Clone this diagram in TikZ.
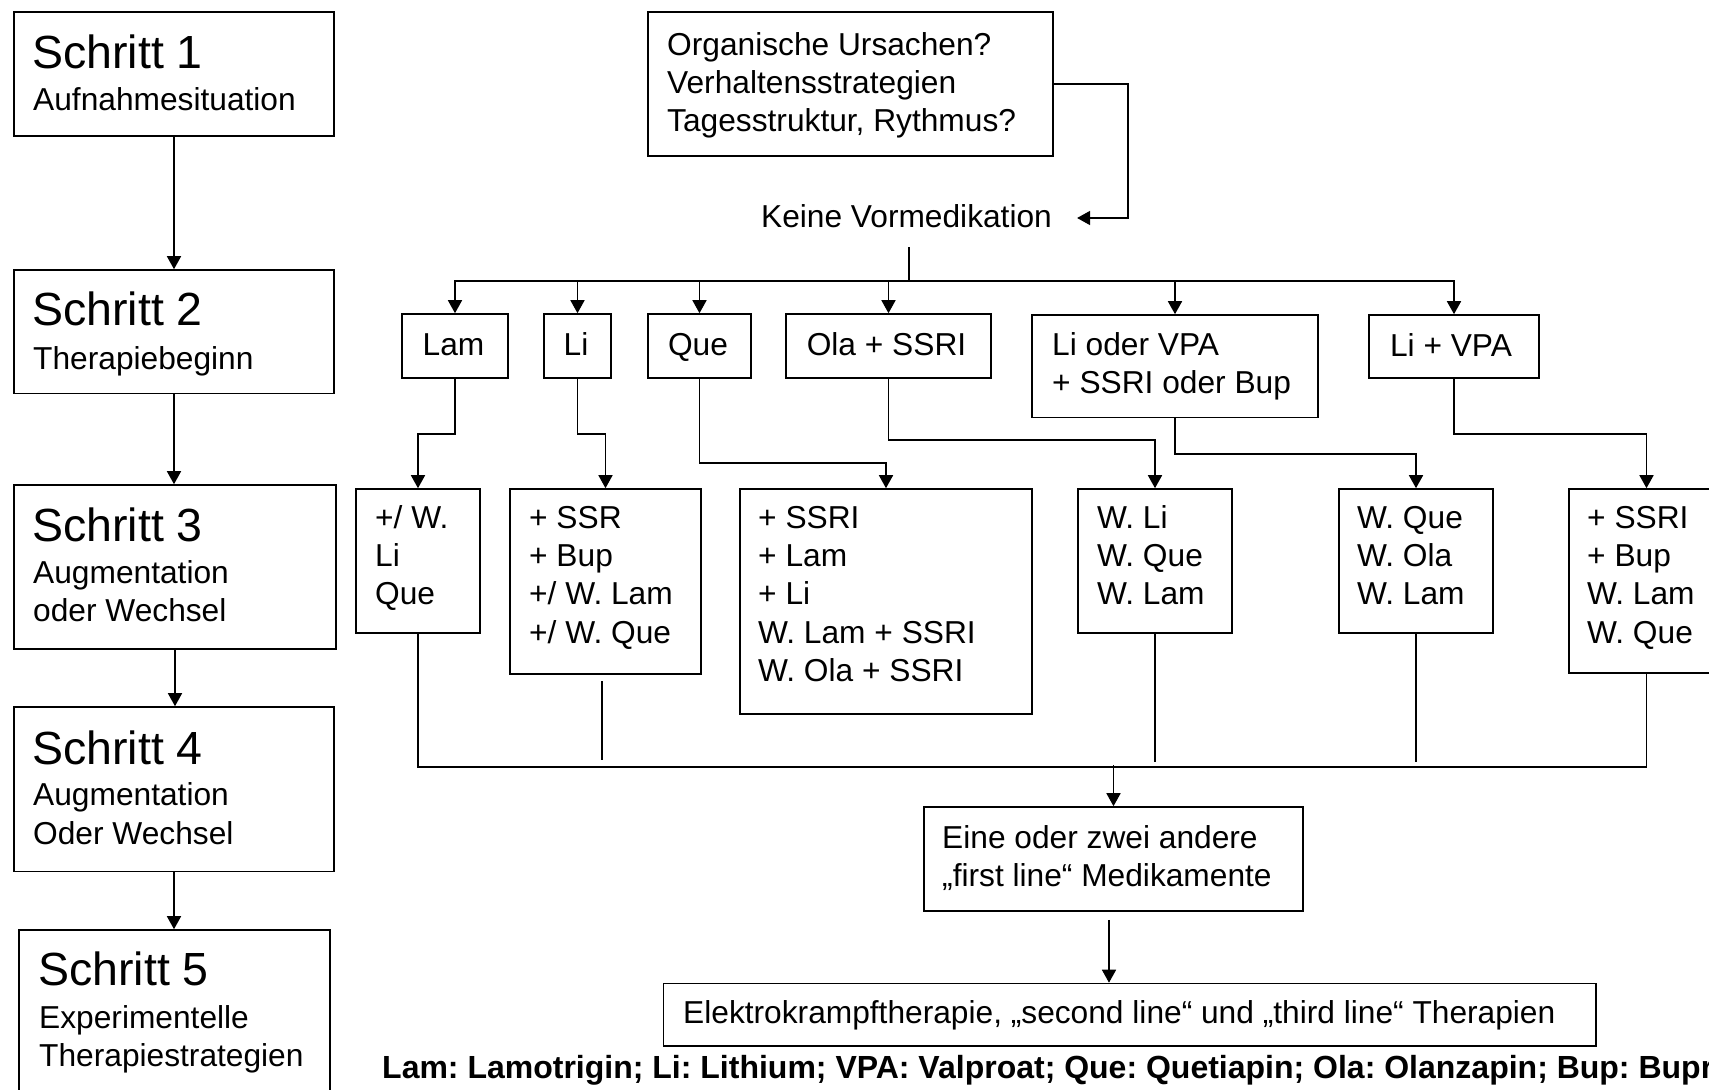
\documentclass[tikz,border=0pt]{standalone}
\usepackage{fontspec}
\setmainfont{Liberation Sans}
\usetikzlibrary{arrows.meta,fit}
\frenchspacing
\newcommand\bodyfont{\fontsize{31.7}{38.4}\selectfont}
\newcommand\legfont{\fontsize{32.0}{38.4}\selectfont\bfseries}
\newcommand\titlefont{\fontsize{46.5}{52}\selectfont}
\newcommand\ml[1]{\begin{tabular}[t]{@{}l@{}}#1\end{tabular}}
\begin{document}
\begin{tikzpicture}[x=1pt,y=-1pt,
  box/.style={draw, line width=1.6pt, inner sep=0pt},
  lbl/.style={inner sep=0pt, anchor=base west, font=\bodyfont},
  clbl/.style={inner sep=0pt, anchor=base, font=\bodyfont},
  ttl/.style={inner sep=0pt, anchor=base west, font=\titlefont},
  ln/.style={line width=1.6pt},
  arr/.style={ln, -{Triangle[length=13pt,width=14pt]}}]
\useasboundingbox (0,0) rectangle (1709,1090);
\clip (0,0) rectangle (1709,1090);

% left column: steps
\node[box, fit={(14,12) (334,136)}] (s1) {};
\node[ttl] (s1a) at (32,68.3) {Schritt 1};
\node[lbl] (s1b) at (33,110) {Aufnahmesituation};
\node[box, fit={(14,270) (334,393.5)}] (s2) {};
\node[ttl] (s2a) at (32,325.7) {Schritt 2};
\node[lbl] (s2b) at (33,369) {Therapiebeginn};
\node[box, fit={(14,485) (336,649)}] (s3) {};
\node[ttl] (s3a) at (32,541) {Schritt 3};
\node[lbl] (s3b) at (33,583) {\ml{Augmentation\\oder Wechsel}};
\node[box, fit={(14,707) (334,871.5)}] (s4) {};
\node[ttl] (s4a) at (32,764) {Schritt 4};
\node[lbl] (s4b) at (33,805.7) {\ml{Augmentation\\Oder Wechsel}};
\node[box, fit={(19,930) (330,1110)}] (s5) {};
\node[ttl] (s5a) at (38,985.7) {Schritt 5};
\node[lbl] (s5b) at (39,1028.3) {\ml{Experimentelle\\Therapiestrategien}};

\draw[arr] (s1.south) -- (s1.south |- s2.north);
\draw[arr] (s2.south) -- (s2.south |- s3.north);
\draw[arr] (s3.south) -- (s3.south |- s4.north);
\draw[arr] (s4.south) -- (s4.south |- s5.north);

% top
\node[box, fit={(648,12) (1053,156)}] (top) {};
\node[lbl] (topt) at (667,55) {\ml{Organische Ursachen?\\Verhaltensstrategien\\Tagesstruktur, Rythmus?}};
\node[font=\bodyfont, inner xsep=25pt, inner ysep=0pt, text height=18pt, text depth=0pt] (kv) at (906.5,218) {Keine Vormedikation};
\draw[arr] (top.east) -- ++(74,0) |- (kv.east);
\coordinate (hub) at (909,281);
\draw[ln] ([xshift=2.5pt,yshift=-20pt]kv.south) -- (hub);

% row 2
\node[box, fit={(402,314) (508,378)}] (lam) {};
\node[clbl] (lamt) at ([xshift=-1.5pt,yshift=-9.5pt]lam.center) {Lam};
\node[box, fit={(544,314) (611,378)}] (li) {};
\node[clbl] (lit) at ([xshift=-1.5pt,yshift=-9.5pt]li.center) {Li};
\node[box, fit={(648,314) (751,378)}] (que) {};
\node[clbl] (quet) at ([xshift=-1.5pt,yshift=-9.5pt]que.center) {Que};
\node[box, fit={(786,314) (991,378)}] (ola) {};
\node[clbl] (olat) at ([xshift=-2pt,yshift=-9.5pt]ola.center) {Ola + SSRI};
\node[box, fit={(1032,315) (1318,417.5)}] (livpa) {};
\node[lbl] (livpat) at (1052,355) {\ml{Li oder VPA\\+ SSRI oder Bup}};
\node[box, fit={(1369,315) (1539,378)}] (livpb) {};
\node[clbl] (livpbt) at ([xshift=-3pt,yshift=-9.5pt]livpb.center) {Li + VPA};
\foreach \n in {lam,li,que,ola,livpa,livpb} \draw[arr] (hub) -| (\n.north);

% row 3
\node[box, fit={(356,489) (480,633)}] (bA) {};
\node[lbl] (bAt) at (375,528) {\ml{+/ W.\\Li\\Que}};
\node[box, fit={(510,489) (701,674)}] (bB) {};
\node[lbl] (bBt) at (529,528) {\ml{+ SSR\\+ Bup\\+/ W. Lam\\+/ W. Que}};
\node[box, fit={(740,489) (1032,714)}] (bC) {};
\node[lbl] (bCt) at (758,528) {\ml{+ SSRI\\+ Lam\\+ Li\\W. Lam + SSRI\\W. Ola + SSRI}};
\node[box, fit={(1078,489) (1232,633)}] (bD) {};
\node[lbl] (bDt) at (1097,528) {\ml{W. Li\\W. Que\\W. Lam}};
\node[box, fit={(1339,489) (1493,633)}] (bE) {};
\node[lbl] (bEt) at (1357,528) {\ml{W. Que\\W. Ola\\W. Lam}};
\node[box, fit={(1569,489) (1724,673)}] (bF) {};
\node[lbl] (bFt) at (1587,528) {\ml{+ SSRI\\+ Bup\\W. Lam\\W. Que}};

\draw[arr] (lam.south) -- ++(0,55) -| (bA.north);
\draw[arr] (li.south) -- ++(0,55) -| (bB.north);
\draw[arr] (que.south) -- ++(0,84) -| (bC.north);
\draw[arr] (ola.south) -- ++(0,61) -| (bD.north);
\draw[arr] (livpa.south) -- ++(0,35.5) -| (bE.north);
\draw[arr] (livpb.south) -- ++(0,55) -| (bF.north);

% collecting lines
\draw[ln] (bA.south) -- ++(0,133) -| (bF.south);
\draw[ln] ([xshift=-3.5pt,yshift=-6.6pt]bB.south) -- ++(0,78.4);
\draw[ln] (bD.south) -- ++(0,128);
\draw[ln] (bE.south) -- ++(0,128);

% lower boxes
\node[box, fit={(924,807) (1303,911)}] (eine) {};
\node[lbl] (einet) at (942,848) {\ml{Eine oder zwei andere\\„first line“ Medikamente}};
\draw[arr] ([yshift=41pt]eine.north) -- (eine.north);

\node[box, fit={(663.5,983.5) (1596,1046)}] (elek) {};
\node[lbl] (elekt) at (683,1023) {Elektrokrampftherapie, „second line“ und „third line“ Therapien};
\coordinate (e1) at ([xshift=-4.5pt]eine.south);
\draw[arr] ([yshift=-8pt]e1) -- (e1 |- elek.north);

\node[inner sep=0pt, anchor=base west, font=\legfont] (legend) at (382,1078) {Lam: Lamotrigin; Li: Lithium; VPA: Valproat; Que: Quetiapin; Ola: Olanzapin; Bup: Bupropion};
\end{tikzpicture}
\end{document}
